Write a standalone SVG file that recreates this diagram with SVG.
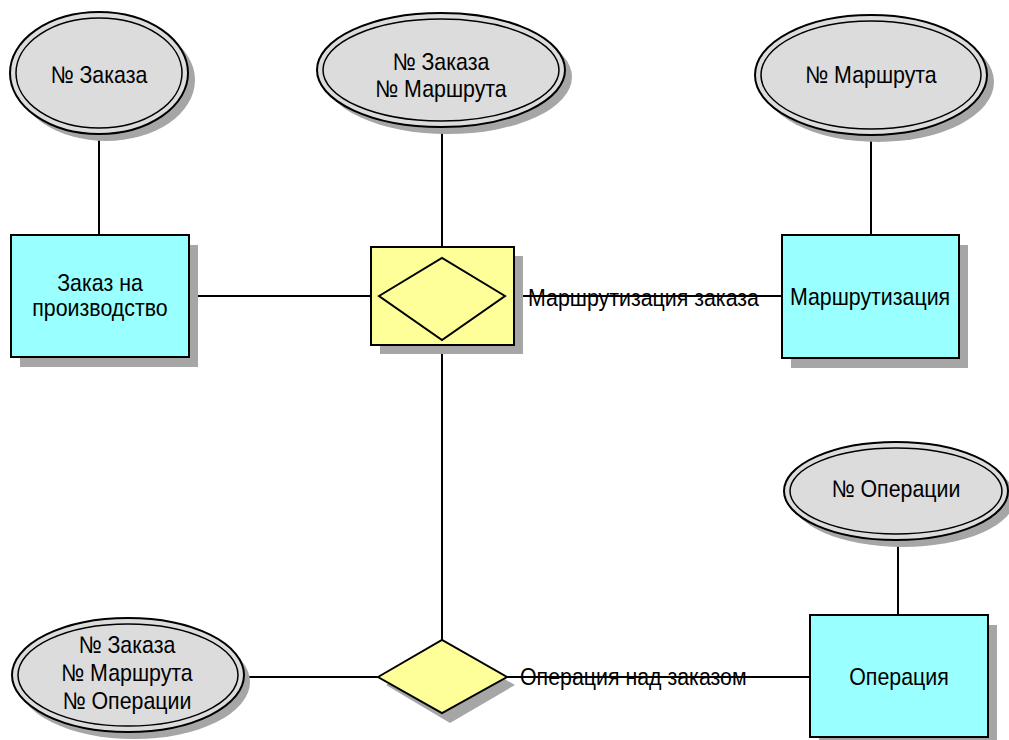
<svg xmlns="http://www.w3.org/2000/svg" width="1009" height="740" viewBox="0 0 1009 740">
<style>
.sh{fill:#a6a6a6;stroke:none}
.ent{fill:#99ffff;stroke:#000;stroke-width:2}
.rel{fill:#ffff99;stroke:#000;stroke-width:2}
.att{fill:#dcdcdc;stroke:#000;stroke-width:2}
.atti{fill:none;stroke:#000;stroke-width:1.5}
.ln{stroke:#000;stroke-width:2;fill:none}
text{font-family:"Liberation Sans",Arial,sans-serif;font-size:24px;fill:#000;text-anchor:middle}
.lbl{text-anchor:start}
</style>
<rect width="1009" height="740" fill="#fff"/>
<g id="connectors">
<line class="ln" x1="99" y1="135" x2="99" y2="235"/>
<line class="ln" x1="442" y1="127" x2="442" y2="247"/>
<line class="ln" x1="871" y1="135" x2="871" y2="235"/>
<line class="ln" x1="898" y1="540" x2="898" y2="615"/>
<line class="ln" x1="189" y1="296" x2="379" y2="296"/>
<line class="ln" x1="505" y1="296" x2="782" y2="296"/>
<line class="ln" x1="442" y1="345" x2="442" y2="640"/>
<line class="ln" x1="245" y1="677" x2="378" y2="677"/>
<line class="ln" x1="507" y1="677" x2="810" y2="677"/>
<g transform="translate(528,0) scale(0.89,1)"><text class="lbl" x="0" y="306">Маршрутизация заказа</text></g>
<g transform="translate(520,0) scale(0.89,1)"><text class="lbl" x="0" y="685">Операция над заказом</text></g>
</g>
<g id="attr-order">
<ellipse class="sh" cx="106" cy="80" rx="89" ry="61"/>
<ellipse class="att" cx="99" cy="73" rx="89" ry="61"/>
<ellipse class="atti" cx="99" cy="73" rx="83" ry="55"/>
<g transform="translate(99,0) scale(0.89,1)"><text x="0" y="83">№ Заказа</text></g>
</g>
<g id="attr-order-route">
<ellipse class="sh" cx="448" cy="77" rx="124" ry="57"/>
<ellipse class="att" cx="441" cy="70" rx="124" ry="57"/>
<ellipse class="atti" cx="441" cy="70" rx="118" ry="51"/>
<g transform="translate(441,0) scale(0.89,1)"><text x="0" y="70">№ Заказа</text><text x="0" y="97">№ Маршрута</text></g>
</g>
<g id="attr-route">
<ellipse class="sh" cx="878" cy="82" rx="116" ry="60"/>
<ellipse class="att" cx="871" cy="75" rx="116" ry="60"/>
<ellipse class="atti" cx="871" cy="75" rx="110" ry="54"/>
<g transform="translate(871,0) scale(0.89,1)"><text x="0" y="83">№ Маршрута</text></g>
</g>
<g id="attr-operation">
<ellipse class="sh" cx="903" cy="498" rx="112" ry="49"/>
<ellipse class="att" cx="896" cy="491" rx="112" ry="49"/>
<ellipse class="atti" cx="896" cy="491" rx="106" ry="43"/>
<g transform="translate(896,0) scale(0.89,1)"><text x="0" y="497">№ Операции</text></g>
</g>
<g id="attr-all">
<ellipse class="sh" cx="134" cy="682" rx="116" ry="57"/>
<ellipse class="att" cx="128" cy="675" rx="116" ry="57"/>
<ellipse class="atti" cx="128" cy="675" rx="110" ry="51"/>
<g transform="translate(127,0) scale(0.89,1)"><text x="0" y="653">№ Заказа</text><text x="0" y="681">№ Маршрута</text><text x="0" y="709">№ Операции</text></g>
</g>
<g id="entity-order">
<rect class="sh" x="20" y="245" width="178" height="122"/>
<rect class="ent" x="11" y="235" width="178" height="122"/>
<g transform="translate(100,0) scale(0.89,1)"><text x="0" y="291">Заказ на</text><text x="0" y="316">производство</text></g>
</g>
<g id="rel-routing">
<rect class="sh" x="380" y="256" width="143" height="98"/>
<rect class="rel" x="371" y="247" width="143" height="98"/>
<polygon class="rel" points="379,296 442,258 505,296 442,340"/>
</g>
<g id="entity-routing">
<rect class="sh" x="791" y="245" width="177" height="123"/>
<rect class="ent" x="782" y="235" width="177" height="123"/>
<g transform="translate(870,0) scale(0.89,1)"><text x="0" y="305">Маршрутизация</text></g>
</g>
<g id="rel-operation">
<polygon class="sh" points="386,685 450,648 515,685 450,723"/>
<polygon class="rel" points="378,677 442,640 507,677 442,713"/>
</g>
<g id="entity-operation">
<rect class="sh" x="819" y="625" width="178" height="122"/>
<rect class="ent" x="810" y="615" width="178" height="122"/>
<g transform="translate(899,0) scale(0.89,1)"><text x="0" y="685">Операция</text></g>
</g>
</svg>
